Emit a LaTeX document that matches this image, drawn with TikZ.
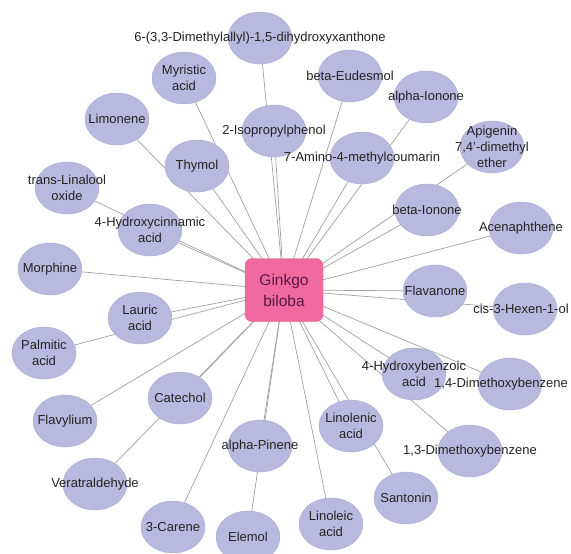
\documentclass[tikz,border=0pt]{standalone}
\usepackage{fontspec}
\setmainfont{Liberation Sans}
\usetikzlibrary{shapes.geometric,backgrounds}
\definecolor{ellfill}{RGB}{185,185,224}
\definecolor{elldraw}{RGB}{168,168,208}
\definecolor{hubfill}{RGB}{240,106,160}
\definecolor{hubdraw}{RGB}{226,92,146}
\definecolor{hubtext}{RGB}{90,25,60}
\definecolor{linkcol}{RGB}{160,160,160}
\definecolor{txt}{RGB}{35,35,35}
\begin{document}
\begin{tikzpicture}[x=1pt,y=-1pt,
  ell/.style={ellipse,fill=ellfill,draw=elldraw,line width=0.4pt,minimum width=64pt,minimum height=52pt,inner sep=0pt},
  lbl/.style={font=\fontsize{13}{16}\selectfont,text=txt,align=center,inner sep=0pt},
  hub/.style={rectangle,rounded corners=7pt,fill=hubfill,draw=hubdraw,line width=0.4pt,minimum width=78pt,minimum height=63pt,font=\fontsize{15.5}{21}\selectfont,text=hubtext,align=center},
  link/.style={draw=linkcol,line width=0.7pt}]
\useasboundingbox (0,0) rectangle (571,554);
\node[hub] (G) at (284,290) {Ginkgo\\biloba};
% nodes
\node[ell,label={[lbl]center:6-(3,3-Dimethylallyl)-1,5-dihydroxyxanthone}] (xan) at (260,38) {};
\node[ell,label={[lbl]center:Myristic\\acid}] (myr) at (184,78) {};
\node[ell,label={[lbl]center:Limonene}] (lim) at (117,119) {};
\node[ell,label={[lbl]center:Thymol}] (thy) at (197,166) {};
\node[ell,label={[lbl]center:2-Isopropylphenol}] (iso) at (274,131) {};
\node[ell,label={[lbl]center:trans-Linalool\\oxide}] (lin) at (67,188) {};
\node[ell,label={[lbl]center:beta-Eudesmol}] (eud) at (350,76) {};
\node[ell,label={[lbl]center:alpha-Ionone}] (aio) at (426,97) {};
\node[ell,label={[lbl]center:7-Amino-4-methylcoumarin}] (ami) at (362,158) {};
\node[ell,label={[lbl]center:Apigenin\\7,4'-dimethyl\\ether}] (api) at (492,147) {};
\node[ell,label={[lbl]center:beta-Ionone}] (bio) at (427,210) {};
\node[ell,label={[lbl]center:Acenaphthene}] (ace) at (521,228) {};
\node[ell,label={[lbl]center:Flavanone}] (fla) at (435,291) {};
\node[ell,label={[lbl,xshift=-4pt]center:cis-3-Hexen-1-ol}] (hex) at (525,309) {};
\node[ell,label={[lbl]center:4-Hydroxybenzoic\\acid}] (hbz) at (414,374) {};
\node[ell,label={[lbl,xshift=-9pt]center:1,4-Dimethoxybenzene}] (dma) at (510,384) {};
\node[ell,label={[lbl]center:1,3-Dimethoxybenzene}] (dmb) at (470,451) {};
\node[ell,label={[lbl]center:Linolenic\\acid}] (lnn) at (351,426) {};
\node[ell,label={[lbl]center:Santonin}] (san) at (406,498) {};
\node[ell,label={[lbl]center:Linoleic\\acid}] (lno) at (331,524) {};
\node[ell,label={[lbl]center:Elemol}] (ele) at (248,537) {};
\node[ell,label={[lbl]center:3-Carene}] (car) at (173,527) {};
\node[ell,label={[lbl]center:alpha-Pinene}] (pin) at (260,446) {};
\node[ell,label={[lbl]center:Catechol}] (cat) at (180,398) {};
\node[ell,label={[lbl]center:Flavylium}] (flv) at (65,421) {};
\node[ell,label={[lbl]center:Veratraldehyde}] (ver) at (95,484) {};
\node[ell,label={[lbl]center:4-Hydroxycinnamic\\acid}] (hcn) at (150,230) {};
\node[ell,label={[lbl]center:Morphine}] (mor) at (50,269) {};
\node[ell,label={[lbl]center:Lauric\\acid}] (lau) at (140,318) {};
\node[ell,label={[lbl]center:Palmitic\\acid}] (pal) at (44,353) {};
% connectors
\begin{pgfonlayer}{background}
\foreach \n in {xan,myr,lim,thy,iso,lin,eud,aio,ami,api,bio,ace,fla,hex,hbz,dma,dmb,lnn,san,lno,ele,car,pin,cat,flv,ver,hcn,mor,lau,pal}
  \draw[link] (G.center) -- (\n.center);
\end{pgfonlayer}
\end{tikzpicture}
\end{document}
